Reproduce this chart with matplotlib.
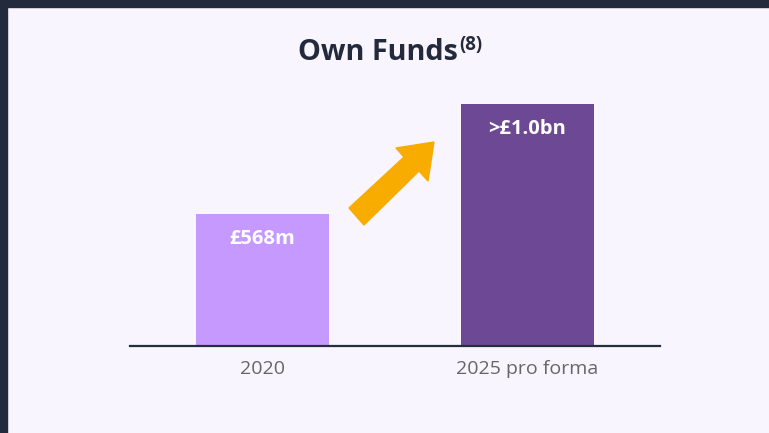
import matplotlib
matplotlib.use("Agg")
import matplotlib.pyplot as plt
from matplotlib.patches import Rectangle, Polygon

categories = ["2020", "2025 pro forma"]
values = [568, 1040]  # £m
value_labels = ["£568m", ">£1.0bn"]
bar_colors = ["#c599ff", "#6c4895"]

W, H = 769, 433
fig = plt.figure(figsize=(W / 100, H / 100), dpi=100)
fig.patch.set_facecolor("#f8f5fe")

def px(x, y):
    return x / W, 1 - y / H

# dark frame on top and left
fig.add_artist(Rectangle((0, 1 - 7 / H), 1, 7 / H, transform=fig.transFigure,
                         color="#222a3c", zorder=0))
fig.add_artist(Rectangle((0, 0), 7 / W, 1, transform=fig.transFigure,
                         color="#222a3c", zorder=0))

left, right = 130 / W, 660 / W
bottom = 1 - 346 / H
top = 1 - 90 / H
ax = fig.add_axes([left, bottom, right - left, top - bottom])
ax.set_facecolor("none")

x = list(range(len(categories)))
ymax = values[1] * 256 / 242
bars = ax.bar(x, values, width=0.5, color=bar_colors, zorder=2)
ax.set_xlim(-0.5, 1.5)
ax.set_ylim(0, ymax)
per_px = ymax / 256

for xi, v, lab in zip(x, values, value_labels):
    ax.text(xi, v - 25 * per_px, lab, ha="center", va="center", color="white",
            fontsize=14.5, fontweight="bold", family="Open Sans")

for s in ["top", "right", "left"]:
    ax.spines[s].set_visible(False)
ax.spines["bottom"].set_color("#262d3d")
ax.spines["bottom"].set_linewidth(1.6)
ax.set_yticks([])
ax.set_xticks(x)
ax.set_xticklabels(categories, fontsize=14, color="#666666", family="Open Sans")
ax.tick_params(axis="x", length=0, pad=10)

# title with superscript
fig.text(*px(458, 60), "Own Funds", ha="right", va="baseline", fontsize=20.7,
         fontweight="bold", color="#232a3b", family="Open Sans")
fig.text(*px(459, 50), "(8)", ha="left", va="baseline", fontsize=13.5,
         fontweight="bold", color="#232a3b", family="Open Sans")

# growth arrow
arrow_pts = [(349, 208), (404, 157), (396, 148), (434, 142), (428, 181),
             (419, 171), (364, 225)]
fig.add_artist(Polygon([px(a, b) for a, b in arrow_pts], closed=True,
                       transform=fig.transFigure, color="#f8ac00", zorder=3))

fig.savefig("out.png", dpi=100, facecolor=fig.get_facecolor())
